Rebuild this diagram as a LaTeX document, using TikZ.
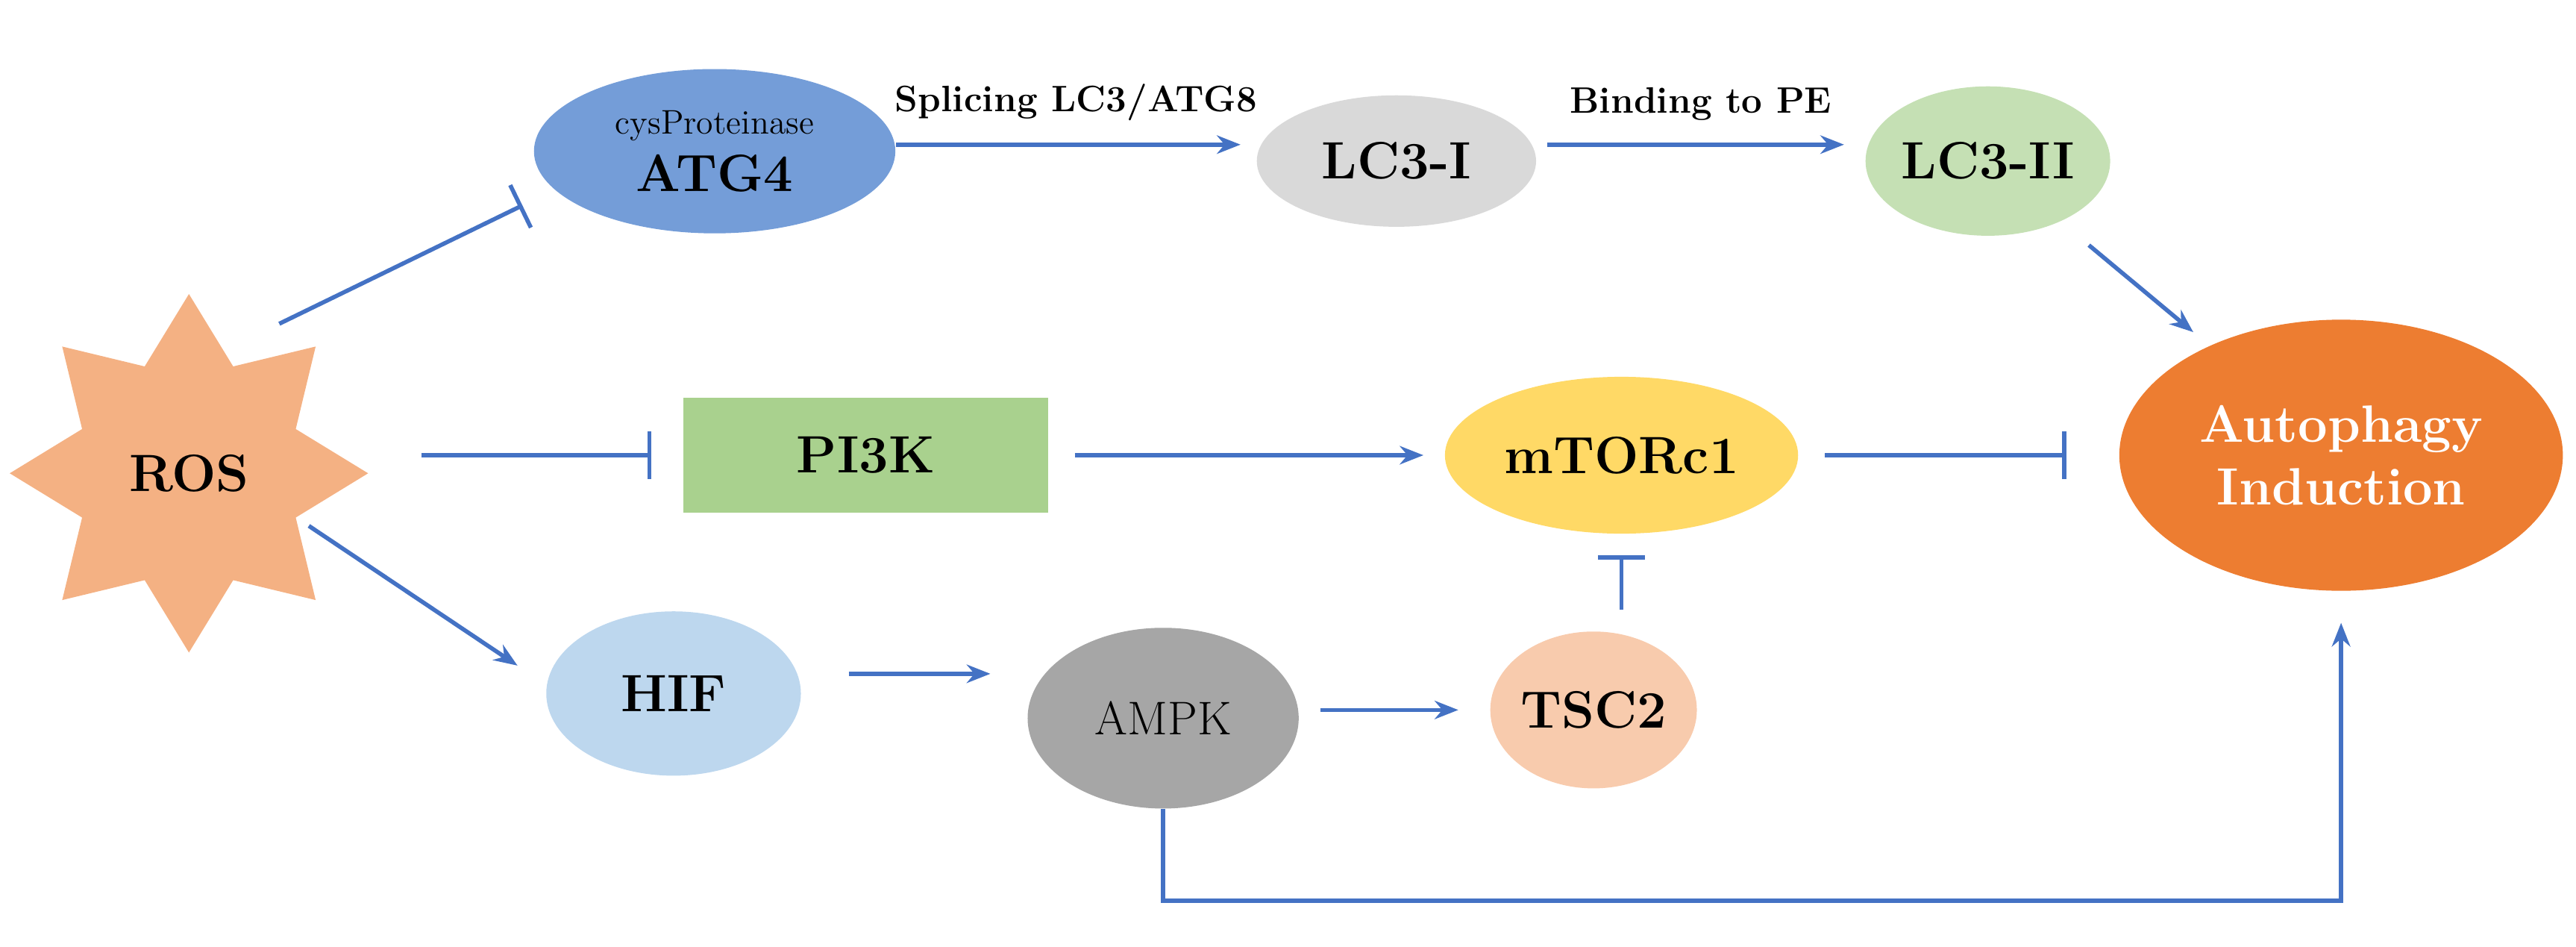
\documentclass[tikz,border=0pt]{standalone}
\usetikzlibrary{shapes.geometric,arrows.meta}
\definecolor{linkblue}{HTML}{4472C4}
\tikzset{
    blob/.style={ellipse, draw=none, font=\fontsize{20}{24}\selectfont\bfseries, inner sep=0pt},
    act/.style={draw=linkblue, line width=1.6pt, -{Stealth[length=9pt,width=7pt]}},
    inh/.style={draw=linkblue, line width=1.6pt, -{Bar[width=18pt]}},
    lbl/.style={font=\fontsize{14}{16}\selectfont\bfseries, above=5pt}
}
\begin{document}
\begin{tikzpicture}[x=0.022cm,y=-0.022cm]
    \useasboundingbox (0,0) rectangle (1568,576);
    % nodes
    \node[star, star points=8, star point ratio=1.55, minimum size=4.8cm, fill={rgb,255:red,244;green,177;blue,131},
          font=\fontsize{20}{24}\selectfont\bfseries] (ros) at (115,288) {ROS};
    \node[blob, fill={rgb,255:red,116;green,157;blue,216}, minimum width=4.84cm, minimum height=2.2cm, align=center]
        (atg4) at (435,92) {{\fontsize{13}{14}\selectfont\mdseries cysProteinase}\\[-2pt]ATG4};
    \node[blob, fill={rgb,255:red,217;green,217;blue,217}, minimum width=3.74cm, minimum height=1.76cm] (lc3i) at (850,98) {LC3-I};
    \node[blob, fill={rgb,255:red,197;green,224;blue,180}, minimum width=3.2cm, minimum height=2cm] (lc3ii) at (1210,98) {LC3-II};
    \node[rectangle, fill={rgb,255:red,169;green,209;blue,142}, minimum width=4.88cm, minimum height=1.54cm,
          font=\fontsize{20}{24}\selectfont\bfseries] (pi3k) at (527,277) {PI3K};
    \node[blob, fill={rgb,255:red,255;green,217;blue,102}, minimum width=4.73cm, minimum height=2.1cm] (mtor) at (987,277) {mTORc1};
    \node[blob, fill={rgb,255:red,237;green,125;blue,49}, text=white, align=center, minimum width=5.94cm, minimum height=3.63cm]
        (auto) at (1425,277) {Autophagy\\Induction};
    \node[blob, fill={rgb,255:red,189;green,215;blue,238}, minimum width=3.41cm, minimum height=2.2cm] (hif) at (410,422) {HIF};
    \node[blob, fill={rgb,255:red,166;green,166;blue,166}, font=\fontsize{18}{22}\selectfont, minimum width=3.63cm, minimum height=2.42cm] (ampk) at (708,437) {AMPK};
    \node[blob, fill={rgb,255:red,248;green,203;blue,173}, minimum width=2.75cm, minimum height=2.1cm] (tsc2) at (970,432) {TSC2};
    \coordinate (rosne) at (170,197);
    \coordinate (atg4in) at (318,125);
    \coordinate (rosse) at (188,320);
    \coordinate (hifin) at (315,405);
    \coordinate (corner1) at (708,548);
    \coordinate (corner2) at (1425,548);

    % connectors
    \draw[inh] (rosne) -- (atg4in);
    \draw[act, shorten >=6pt] (atg4.east|-0,88) -- node[lbl]{Splicing LC3/ATG8} (lc3i.west|-0,88);
    \draw[act, shorten <=4pt, shorten >=8pt] (lc3i.east|-0,88) -- node[lbl]{Binding to PE} (lc3ii.west|-0,88);
    \draw[act, shorten <=14pt, shorten >=8pt] (lc3ii) -- (auto);
    \draw[inh, shorten <=20pt, shorten >=12pt] (ros.east|-pi3k) -- (pi3k.west);
    \draw[act, shorten <=10pt, shorten >=8pt] (pi3k.east) -- (mtor.west);
    \draw[inh, shorten <=10pt, shorten >=20pt] (mtor.east) -- (auto.west);
    \draw[inh, shorten <=8pt, shorten >=8pt] (tsc2.north-|mtor) -- (mtor.south);
    \draw[act] (rosse) -- (hifin);
    \draw[act, shorten <=18pt, shorten >=14pt] (hif.east|-0,410) -- (ampk.west|-0,410);
    \draw[act, shorten <=8pt, shorten >=12pt] (ampk.east|-0,432) -- (tsc2.west|-0,432);
    \draw[act, shorten >=12pt] (ampk.south) -- (corner1) -- (corner2) -- (auto.south);
\end{tikzpicture}
\end{document}
